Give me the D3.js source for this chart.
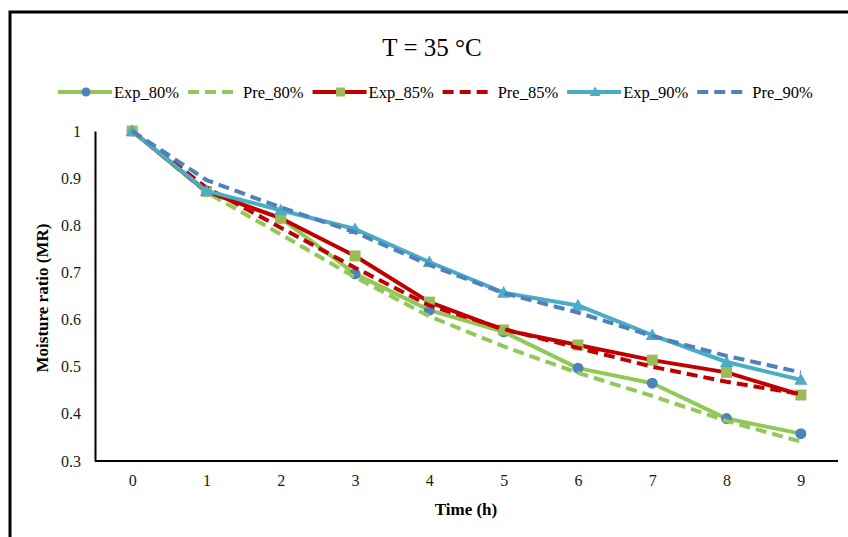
<!DOCTYPE html>
<meta charset="utf-8">
<style>
body { margin: 0; background: #fff; }
svg { display: block; }
svg text { font-family: "Liberation Serif", "Times New Roman", Times, serif; }
.tick text { font-size: 16px; fill: #1a1a1a; }
</style>
<svg width="848" height="537"></svg>
<script src="https://d3js.org/d3.v7.min.js"></script>
<script>

var svg = d3.select("svg"),
    width = +svg.attr("width"),
    height = +svg.attr("height");

// hours on the x axis
var hours = ["0", "1", "2", "3", "4", "5", "6", "7", "8", "9"];
var yTicks = [0.3, 0.4, 0.5, 0.6, 0.7, 0.8, 0.9, 1];
var yTickLabels = ["0.3", "0.4", "0.5", "0.6", "0.7", "0.8", "0.9", "1"];

// moisture ratio
var exp80 = [1, 0.872, 0.815, 0.697, 0.62, 0.574, 0.497, 0.465, 0.39, 0.358];
var pre80 = [1, 0.87, 0.781, 0.69, 0.607, 0.543, 0.487, 0.438, 0.385, 0.341];
var exp85 = [1, 0.872, 0.815, 0.735, 0.637, 0.578, 0.546, 0.514, 0.488, 0.44];
var pre85 = [1, 0.88, 0.795, 0.71, 0.63, 0.58, 0.54, 0.5, 0.468, 0.442];
var exp90 = [1, 0.873, 0.832, 0.792, 0.722, 0.657, 0.63, 0.567, 0.51, 0.472];
var pre90 = [1, 0.896, 0.838, 0.785, 0.716, 0.656, 0.615, 0.565, 0.523, 0.488];

var series = [
  {name: "Exp_80%", values: exp80, color: "#92c857", dash: null, marker: "circle", mcolor: "#4f81bd"},
  {name: "Pre_80%", values: pre80, color: "#92c857", dash: "11,6", marker: null},
  {name: "Exp_85%", values: exp85, color: "#c00000", dash: null, marker: "square", mcolor: "#9bbb59"},
  {name: "Pre_85%", values: pre85, color: "#c00000", dash: "11,6", marker: null},
  {name: "Exp_90%", values: exp90, color: "#4bacc6", dash: null, marker: "triangle", mcolor: "#4bacc6"},
  {name: "Pre_90%", values: pre90, color: "#4f81bd", dash: "11,6", marker: null}
];

var margin = {left: 95, right: 10, top: 131, bottom: 76};

var x = d3.scalePoint().domain(hours)
    .range([margin.left, width - margin.right]).padding(0.5);
var y = d3.scaleLinear().domain([0.3, 1])
    .range([height - margin.bottom, margin.top]);

// outer frame (runs off the right and bottom edge)
svg.append("rect")
    .attr("x", 10).attr("y", 12)
    .attr("width", width + 10).attr("height", height + 10)
    .attr("fill", "none").attr("stroke", "#000").attr("stroke-width", 3);

svg.append("text")
    .attr("x", 432).attr("y", 56)
    .attr("text-anchor", "middle")
    .style("font-size", "25px")
    .text("T = 35 \u00B0C");

// axes
var yAxis = svg.append("g")
    .attr("transform", "translate(" + margin.left + ",0)")
    .call(d3.axisLeft(y).tickValues(yTicks)
        .tickFormat(function(d, i) { return yTickLabels[i]; })
        .tickSize(0).tickPadding(14))
    .attr("font-family", null).attr("font-size", null);
yAxis.select(".domain").attr("stroke", "#000").attr("stroke-width", 2);

var xAxis = svg.append("g")
    .attr("transform", "translate(0," + y(0.3) + ")")
    .call(d3.axisBottom(x).tickSize(0).tickPadding(14))
    .attr("font-family", null).attr("font-size", null);
xAxis.select(".domain")
    .attr("d", "M" + margin.left + ",0H" + (width - margin.right))
    .attr("stroke", "#000").attr("stroke-width", 2);

svg.append("text")
    .attr("transform", "translate(48," + 298 + ") rotate(-90)")
    .attr("text-anchor", "middle")
    .style("font-size", "17px").style("font-weight", "bold")
    .text("Moisture ratio (MR)");

svg.append("text")
    .attr("x", 466).attr("y", 515)
    .attr("text-anchor", "middle")
    .style("font-size", "17px").style("font-weight", "bold")
    .text("Time (h)");

var line = d3.line()
    .x(function(d, i) { return x(hours[i]); })
    .y(function(d) { return y(d); });

function drawMarker(g, type, color, cx, cy, s) {
  if (type == "circle") {
    g.append("circle").attr("cx", cx).attr("cy", cy).attr("r", s / 2)
        .attr("fill", color);
  } else if (type == "square") {
    g.append("rect").attr("x", cx - s / 2).attr("y", cy - s / 2)
        .attr("width", s).attr("height", s).attr("fill", color);
  } else if (type == "triangle") {
    g.append("path")
        .attr("d", "M" + cx + "," + (cy - s * 0.6) + "L" + (cx + s * 0.6) + "," + (cy + s * 0.45) +
                   "L" + (cx - s * 0.6) + "," + (cy + s * 0.45) + "Z")
        .attr("fill", color);
  }
}

var plot = svg.append("g");
series.forEach(function(s) {
  var g = plot.append("g");
  g.append("path")
      .attr("d", line(s.values))
      .attr("fill", "none")
      .attr("stroke", s.color)
      .attr("stroke-width", 4)
      .attr("stroke-dasharray", s.dash)
      .attr("stroke-linejoin", "round");
  if (s.marker) {
    s.values.forEach(function(v, i) {
      drawMarker(g, s.marker, s.mcolor, x(hours[i]), y(v), 11);
    });
  }
});

// legend
var legend = svg.append("g").style("font-size", "16.5px");
var lx = 58, ly = 92;
series.forEach(function(s) {
  var g = legend.append("g");
  var len = s.dash ? 45 : 54;
  g.append("line")
      .attr("x1", lx).attr("x2", lx + len)
      .attr("y1", ly).attr("y2", ly)
      .attr("stroke", s.color).attr("stroke-width", 4)
      .attr("stroke-dasharray", s.dash);
  if (s.marker) drawMarker(g, s.marker, s.mcolor, lx + 28, ly, 9);
  var t = g.append("text")
      .attr("x", lx + (s.dash ? 55 : 56)).attr("y", ly + 5.5)
      .text(s.name);
  lx = lx + (s.dash ? 55 : 56) + t.node().getComputedTextLength() + 9;
});

</script>
